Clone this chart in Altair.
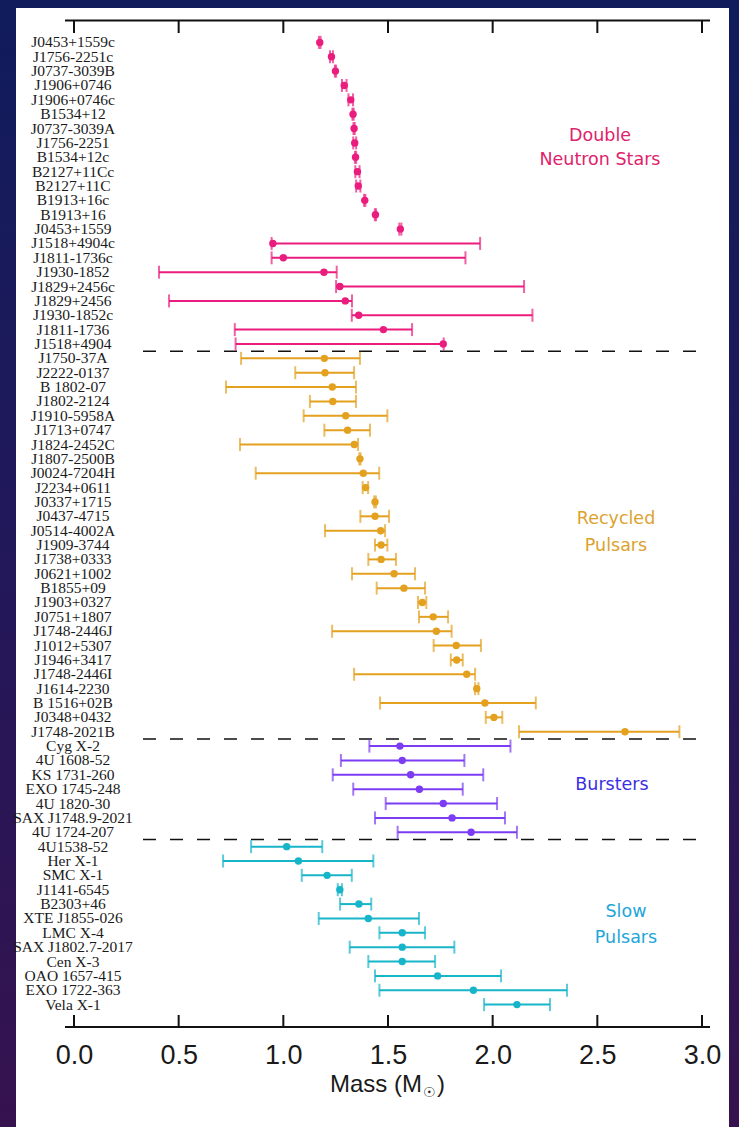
import altair as alt
import pandas as pd

# ---- Neutron star masses (solar masses): central value, lower and upper limit ----
dns_names = ["J0453+1559c", "J1756-2251c", "J0737-3039B", "J1906+0746", "J1906+0746c",
             "B1534+12", "J0737-3039A", "J1756-2251", "B1534+12c", "B2127+11Cc",
             "B2127+11C", "B1913+16c", "B1913+16", "J0453+1559", "J1518+4904c",
             "J1811-1736c", "J1930-1852", "J1829+2456c", "J1829+2456", "J1930-1852c",
             "J1811-1736", "J1518+4904"]
dns_mass = [1.174, 1.230, 1.249, 1.291, 1.322, 1.333, 1.338, 1.341, 1.345, 1.354,
            1.358, 1.389, 1.440, 1.559, 0.950, 1.000, 1.194, 1.270, 1.296, 1.360,
            1.478, 1.764]
dns_low = [1.170, 1.223, 1.246, 1.280, 1.311, 1.330, 1.335, 1.334, 1.342, 1.344,
           1.348, 1.386, 1.437, 1.554, 0.944, 0.944, 0.406, 1.252, 0.454, 1.327,
           0.768, 0.772]
dns_high = [1.178, 1.237, 1.252, 1.302, 1.333, 1.336, 1.341, 1.348, 1.348, 1.364,
            1.368, 1.392, 1.443, 1.564, 1.940, 1.870, 1.255, 2.150, 1.328, 2.190,
            1.615, 1.766]

rec_names = ["J1750-37A", "J2222-0137", "B 1802-07", "J1802-2124", "J1910-5958A",
             "J1713+0747", "J1824-2452C", "J1807-2500B", "J0024-7204H", "J2234+0611",
             "J0337+1715", "J0437-4715", "J0514-4002A", "J1909-3744", "J1738+0333",
             "J0621+1002", "B1855+09", "J1903+0327", "J0751+1807", "J1748-2446J",
             "J1012+5307", "J1946+3417", "J1748-2446I", "J1614-2230", "B 1516+02B",
             "J0348+0432", "J1748-2021B"]
rec_mass = [1.196, 1.199, 1.234, 1.236, 1.298, 1.307, 1.339, 1.366, 1.382, 1.393,
            1.438, 1.438, 1.465, 1.467, 1.467, 1.529, 1.576, 1.664, 1.716, 1.731,
            1.826, 1.828, 1.876, 1.924, 1.963, 2.006, 2.632]
rec_low = [0.798, 1.057, 0.726, 1.127, 1.097, 1.196, 0.793, 1.363, 0.868, 1.379,
           1.434, 1.368, 1.199, 1.438, 1.406, 1.328, 1.446, 1.643, 1.648, 1.233,
           1.718, 1.800, 1.338, 1.916, 1.462, 1.967, 2.126]
rec_high = [1.366, 1.338, 1.347, 1.347, 1.497, 1.414, 1.357, 1.369, 1.458, 1.405,
            1.442, 1.505, 1.486, 1.497, 1.538, 1.629, 1.677, 1.683, 1.787, 1.804,
            1.944, 1.857, 1.916, 1.932, 2.206, 2.046, 2.892]

bur_names = ["Cyg X-2", "4U 1608-52", "KS 1731-260", "EXO 1745-248", "4U 1820-30",
             "SAX J1748.9-2021", "4U 1724-207"]
bur_mass = [1.557, 1.568, 1.608, 1.650, 1.764, 1.806, 1.897]
bur_low = [1.411, 1.275, 1.236, 1.334, 1.489, 1.438, 1.546]
bur_high = [2.085, 1.865, 1.955, 1.857, 2.021, 2.059, 2.116]

slow_names = ["4U1538-52", "Her X-1", "SMC X-1", "J1141-6545", "B2303+46",
              "XTE J1855-026", "LMC X-4", "SAX J1802.7-2017", "Cen X-3",
              "OAO 1657-415", "EXO 1722-363", "Vela X-1"]
slow_mass = [1.016, 1.072, 1.209, 1.270, 1.361, 1.406, 1.568, 1.568, 1.568,
             1.737, 1.908, 2.116]
slow_low = [0.846, 0.712, 1.088, 1.260, 1.271, 1.169, 1.459, 1.317, 1.406,
            1.438, 1.459, 1.959]
slow_high = [1.186, 1.430, 1.327, 1.280, 1.420, 1.648, 1.677, 1.817, 1.725,
             2.040, 2.355, 2.274]

groups = ["Double Neutron Stars", "Recycled Pulsars", "Bursters", "Slow Pulsars"]
group_colors = ["#ea1c7e", "#e3a11f", "#7b3cf4", "#17b5c9"]
mass_ticks = [0.0, 0.5, 1.0, 1.5, 2.0, 2.5, 3.0]

# ---- assemble one long table ----
rows = []
for g, names, m, lo, hi in [
    (groups[0], dns_names, dns_mass, dns_low, dns_high),
    (groups[1], rec_names, rec_mass, rec_low, rec_high),
    (groups[2], bur_names, bur_mass, bur_low, bur_high),
    (groups[3], slow_names, slow_mass, slow_low, slow_high),
]:
    for n, v, a, b in zip(names, m, lo, hi):
        rows.append({"name": n, "group": g, "mass": v, "low": a, "high": b})
df = pd.DataFrame(rows)
order = list(df["name"])

# first source of every group after the first -> dashed separator above it
sep_df = pd.DataFrame({"name": [rec_names[0], bur_names[0], slow_names[0]]})
tick_df = pd.DataFrame({"t": mass_ticks})
one = pd.DataFrame({"k": [0]})

W, H = 628, 1007
xscale = alt.Scale(domain=[0, 3], nice=False, zero=False)
# rows run from the first source near the top frame to the last one near the bottom
yscale = alt.Scale(type="point", domain=order, range=[22.4, 984.6], padding=0)
cscale = alt.Scale(domain=groups, range=group_colors)

xaxis = alt.Axis(values=mass_ticks, format=".1f", ticks=False, domain=False,
                 grid=False, labelFlush=False, labelFont="Liberation Sans",
                 labelFontSize=27, labelColor="#1a1a1a", labelPadding=15,
                 zindex=1, title=None)


def X(field):
    return alt.X(field, scale=xscale, axis=xaxis)


Y = alt.Y("name:N", scale=yscale, axis=None)
color = alt.Color("group:N", scale=cscale, legend=None)

# backdrop: gradient page and white panel
backdrop = alt.Chart(one).mark_rect(
    color=alt.LinearGradient(
        gradient="linear", x1=0, x2=0, y1=0, y2=1,
        stops=[alt.GradientStop(color="#101c5c", offset=0),
               alt.GradientStop(color="#22185a", offset=0.5),
               alt.GradientStop(color="#36124f", offset=1)])
).encode(x=alt.value(-74), x2=alt.value(665), y=alt.value(-20), y2=alt.value(1107))

panel = alt.Chart(one).mark_rect(color="white").encode(
    x=alt.value(-58), x2=alt.value(655), y=alt.value(-12), y2=alt.value(1107))

# frame lines top and bottom, with ticks pointing inward
top_line = alt.Chart(one).mark_rule(color="#111111", strokeWidth=2).encode(
    x=alt.value(-9), x2=alt.value(636), y=alt.value(0.5))
bottom_line = alt.Chart(one).mark_rule(color="#111111", strokeWidth=2).encode(
    x=alt.value(-9), x2=alt.value(636), y=alt.value(1007))
top_ticks = alt.Chart(tick_df).mark_rule(color="#111111", strokeWidth=2).encode(
    x=X("t:Q"), y=alt.value(0), y2=alt.value(13))
bottom_ticks = alt.Chart(tick_df).mark_rule(color="#111111", strokeWidth=2).encode(
    x=X("t:Q"), y=alt.value(995), y2=alt.value(1007))

separators = alt.Chart(sep_df).mark_rule(
    color="#111111", strokeWidth=1.5, strokeDash=[13, 14], yOffset=-7.2
).encode(y=Y, x=alt.value(69), x2=alt.value(632))

bars = alt.Chart(df).mark_rule(strokeWidth=2).encode(
    x=X("low:Q"), x2="high:Q", y=Y, color=color)

cap_lo = alt.Chart(df).mark_tick(orient="vertical", size=13, thickness=2).encode(
    x=X("low:Q"), y=Y, color=color)
cap_hi = alt.Chart(df).mark_tick(orient="vertical", size=13, thickness=2).encode(
    x=X("high:Q"), y=Y, color=color)

points = alt.Chart(df).mark_circle(size=55, opacity=1).encode(
    x=X("mass:Q"), y=Y, color=color)

names_text = alt.Chart(df).mark_text(
    align="center", baseline="middle", font="Liberation Serif", fontSize=15.5,
    color="#1a1a1a"
).encode(x=alt.value(-1), y=Y, text="name:N")


def note(line, x, y, col, size=17.5, font="DejaVu Sans", align="center"):
    return alt.Chart(one).mark_text(
        text=line, font=font, fontSize=size, color=col,
        align=align, baseline="middle"
    ).encode(x=alt.value(x), y=alt.value(y))


labels = [
    note("Double", 526, 116, "#e0226c"),
    note("Neutron Stars", 526, 140, "#e0226c"),
    note("Recycled", 542, 499, "#dca22e"),
    note("Pulsars", 542, 526, "#dca22e"),
    note("Bursters", 538, 765, "#3b2fe0"),
    note("Slow", 552, 892, "#1ea6da"),
    note("Pulsars", 552, 918, "#1ea6da"),
]

# axis title with the solar symbol as a subscript
title = [
    note("Mass (M", 348, 1065, "#1a1a1a", size=24, font="Liberation Sans", align="right"),
    note("☉", 349, 1073, "#1a1a1a", size=14, font="DejaVu Sans", align="left"),
    note(")", 363, 1065, "#1a1a1a", size=24, font="Liberation Sans", align="left"),
]

chart = alt.layer(
    backdrop, panel, top_line, bottom_line, top_ticks, bottom_ticks, separators,
    bars, cap_lo, cap_hi, points, names_text, *labels, *title
).properties(
    width=W, height=H,
    padding={"left": 74, "top": 20, "right": 37, "bottom": 100},
    autosize=alt.AutoSizeParams(type="none"),
    background="#141b5a",
).configure_view(stroke=None)

chart.save("out.html", embed_options={"renderer": "svg", "actions": False})
